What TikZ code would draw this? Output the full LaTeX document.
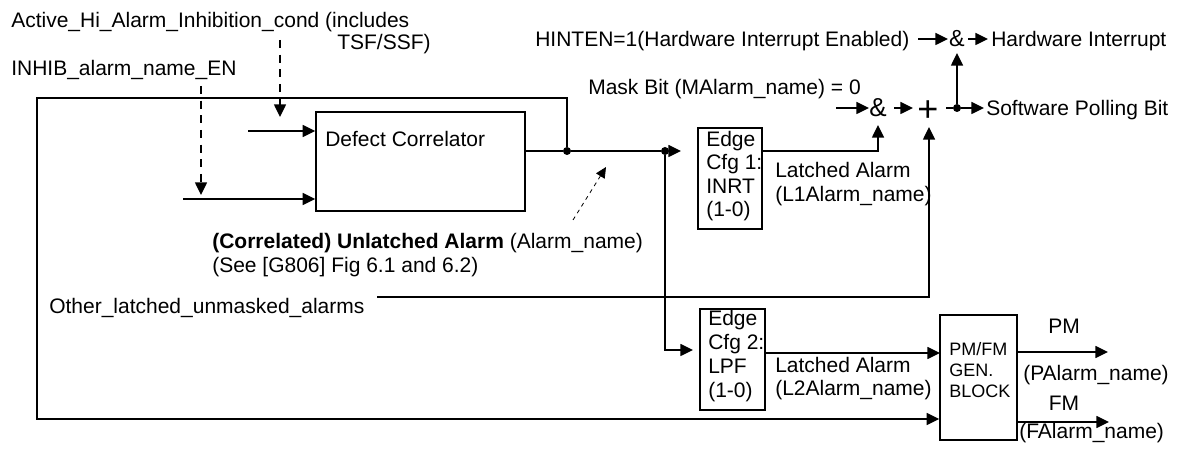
\documentclass[tikz,border=0pt]{standalone}
\usepackage{fontspec}
\setmainfont{Liberation Sans}
\usetikzlibrary{arrows.meta,fit}

\newcommand{\txtsize}{\fontsize{15.75pt}{17.6pt}\selectfont}
\newcommand{\blksize}{\fontsize{13.5pt}{15pt}\selectfont}

\tikzset{
  wire/.style={line width=1.1pt},
  flow/.style={wire,-{Triangle[length=9.5pt,width=9pt]}},
  inhib/.style={flow,dash pattern=on 6pt off 5pt},
  hint/.style={line width=0.6pt,dash pattern=on 3pt off 3pt,
    -{Triangle[length=8pt,width=7.5pt]}},
  blk/.style={draw,line width=1.1pt,inner sep=0pt},
  lbl/.style={inner sep=0pt,anchor=base west},
  gate/.style={inner sep=0pt},
  jdot/.style={circle,fill,inner sep=0pt,minimum size=6pt},
}

\begin{document}
\begin{tikzpicture}[x=0.75pt,y=-0.75pt,every node/.style={font=\txtsize}]
  \useasboundingbox (0,0) rectangle (1179,452);

  % blocks
  \node[blk,fit={(316,112) (525,211)}] (dc) {};
  \node[blk,fit={(698,128) (762,229)}] (edge1) {};
  \node[blk,fit={(700,309) (765,410)}] (edge2) {};
  \node[blk,fit={(940,315) (1017,440)}] (pmfm) {};

  \node[lbl] (dctxt) at (325,147) {Defect Correlator};
  \foreach \t [count=\i] in {Edge,Cfg 1:,INRT,(1-0)}
    \node[lbl] (e1t\i) at (706,123+23.5*\i) {\t};
  \foreach \t [count=\i] in {Edge,Cfg 2:,LPF,(1-0)}
    \node[lbl] (e2t\i) at (708,302+24*\i) {\t};
  \foreach \t [count=\i] in {PM/FM,GEN.,BLOCK}
    \node[lbl,font=\blksize] (pmt\i) at (949,335+21*\i) {\t};

  % gates and junctions
  \node[gate,anchor=base,font=\fontsize{17.5pt}{18pt}\selectfont] (and2) at (957,47) {\&};
  \node[gate,anchor=base,font=\fontsize{19.5pt}{20pt}\selectfont] (and1) at (878,117) {\&};
  \node[gate,font=\fontsize{27pt}{28pt}\selectfont] (orgate) at (928,111) {+};
  \node[jdot] (j1) at (567,151) {};
  \node[jdot] (j2) at (665,151) {};
  \node[jdot] (j3) at (957,108) {};

  % labels
  \node[lbl] (ahic) at (11,28) {Active\_Hi\_Alarm\_Inhibition\_cond (includes};
  \node[lbl] (tsf) at (337,50) {TSF/SSF)};
  \node[lbl] (inhib) at (11,76) {INHIB\_alarm\_name\_EN};
  \node[lbl] (hinten) at (535,47) {HINTEN=1(Hardware Interrupt Enabled)};
  \node[lbl] (hwint) at (991,47) {Hardware Interrupt};
  \node[lbl] (mask) at (588,95) {Mask Bit (MAlarm\_name) = 0};
  \node[lbl] (swpoll) at (986,116) {Software Polling Bit};
  \node[lbl] (lat1) at (775,178) {Latched Alarm};
  \node[lbl] (lat1n) at (775,202) {(L1Alarm\_name)};
  \node[lbl] (unl) at (212,249) {\textbf{(Correlated) Unlatched Alarm} (Alarm\_name)};
  \node[lbl] (g806) at (212,273) {(See [G806] Fig 6.1 and 6.2)};
  \node[lbl] (other) at (49,314) {Other\_latched\_unmasked\_alarms};
  \node[lbl] (lat2) at (775,373) {Latched Alarm};
  \node[lbl] (lat2n) at (775,396) {(L2Alarm\_name)};
  \node[lbl,anchor=base] (pm) at (1064,334) {PM};
  \node[lbl] (pmn) at (1023,381) {(PAlarm\_name)};
  \node[lbl,anchor=base] (fm) at (1064,411) {FM};
  \node[lbl] (fmn) at (1019,439) {(FAlarm\_name)};

  % free ends
  \coordinate (ahtop) at (280,40);
  \coordinate (ahend) at (280,117);
  \coordinate (intop) at (201,86);
  \coordinate (inend) at (201,195);
  \coordinate (in1) at (248,131);
  \coordinate (in2) at (183,199);
  \coordinate (hint0) at (573,220);
  \coordinate (hint1) at (606,167);
  \coordinate (e1in) at (681,151);
  \coordinate (e2in) at (693,350);
  \coordinate (loopB) at (37,98);
  \coordinate (fbk) at (37,419);
  \coordinate (l2in) at (940,353);
  \coordinate (oth) at (377,297);
  \coordinate (ortip) at (929,127);
  \coordinate (and1tip) at (878,125);
  \coordinate (mskin) at (836,108);
  \coordinate (and1in) at (869,108);
  \coordinate (and1out) at (894,108);
  \coordinate (orin) at (913,108);
  \coordinate (orout) at (946,108);
  \coordinate (swtip) at (984,108);
  \coordinate (and2tip) at (957,53);
  \coordinate (hwin) at (918,39);
  \coordinate (and2in) at (948,39);
  \coordinate (and2out) at (968,39);
  \coordinate (hwtip) at (988,39);
  \coordinate (pmout) at (1108,352);
  \coordinate (fmout) at (1109,422);

  % inputs
  \draw[inhib] (ahtop) -- (ahend);
  \draw[inhib] (intop) -- (inend);
  \draw[flow] (in1) -- (in1 -| dc.west);
  \draw[flow] (in2) -- (in2 -| dc.west);

  % unlatched alarm path
  \draw[wire] (dc.east |- j1) -- (j1) -- (j2);
  \draw[flow] (j2) -- (e1in);
  \draw[flow] (j1) |- (loopB) |- (fbk -| pmfm.west);
  \draw[flow] (j2) |- (e2in);
  \draw[hint] (hint0) -- (hint1);

  % latched alarm 1 to interrupt logic
  \draw[flow] (edge1.east |- j2) -| (and1tip);
  \draw[flow] (oth) -| (ortip);
  \draw[flow] (mskin) -- (and1in);
  \draw[flow] (and1out) -- (orin);
  \draw[wire] (orout) -- (j3);
  \draw[flow] (j3) -- (swtip);
  \draw[flow] (j3) -- (and2tip);
  \draw[flow] (hwin) -- (and2in);
  \draw[flow] (and2out) -- (hwtip);

  % latched alarm 2 to PM/FM
  \draw[flow] (edge2.east |- l2in) -- (l2in);
  \draw[flow] (pmfm.east |- pmout) -- (pmout);
  \draw[flow] (pmfm.east |- fmout) -- (fmout);
\end{tikzpicture}
\end{document}
